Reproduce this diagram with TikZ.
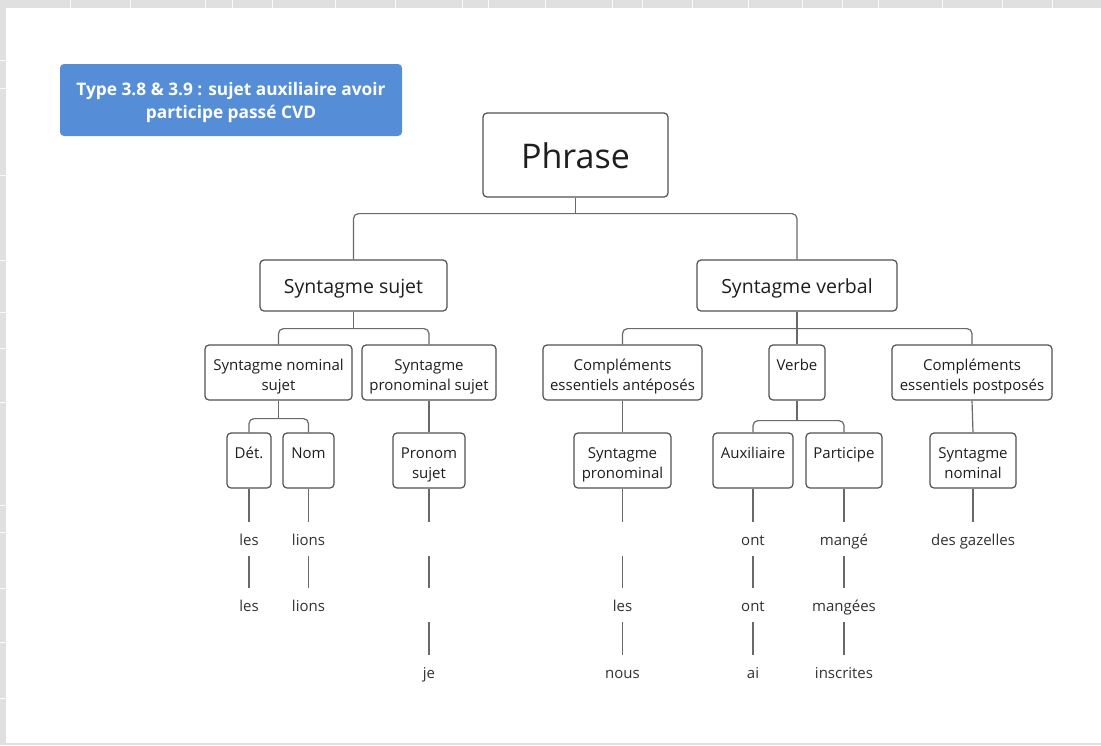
\documentclass[tikz,border=0pt]{standalone}
\usepackage{fontspec}
\usepackage{tikz}
\setmainfont{Open Sans}
\newfontfamily\labelfont{Open Sans}

\definecolor{titleblue}{RGB}{85,142,214}
\definecolor{boxgray}{RGB}{80,80,80}
\definecolor{linegray}{RGB}{105,105,105}
\definecolor{labelink}{RGB}{30,30,30}
\definecolor{wordink}{RGB}{50,50,50}
\definecolor{bggray}{RGB}{224,224,224}

\newcommand{\phrasefont}{\labelfont\fontsize{34}{40}\selectfont}
\newcommand{\midfont}{\labelfont\fontsize{19.5}{24}\selectfont}
\newcommand{\smallfont}{\labelfont\fontsize{15}{20}\selectfont}
\newcommand{\titlefont}{\labelfont\bfseries\fontsize{17.3}{23}\selectfont}
% hauteur et profondeur autour de la derniere ligne
\newcommand{\upstrut}[1]{\vrule width 0pt height #1 depth 0pt}
\newcommand{\downstrut}[1]{\vrule width 0pt height 0pt depth #1}

\tikzset{
  boxbase/.style={draw=boxgray, line width=1.2pt, rounded corners=4pt, fill=white,
    align=center, text=labelink, inner sep=0pt},
  box/.style={boxbase, font=\smallfont,
    execute at begin node=\upstrut{2.65em}, execute at end node=\downstrut{0.3em}},
  bigbox/.style={boxbase,
    execute at begin node=\upstrut{1.1em}, execute at end node=\downstrut{0.3em}},
  titlebox/.style={fill=titleblue, rounded corners=4pt, align=center,
    text=white, inner sep=0pt, font=\titlefont,
    execute at begin node=\upstrut{2.4em}, execute at end node=\downstrut{0.3em}},
  link/.style={draw=linegray, line width=1.2pt, rounded corners=5pt},
  word/.style={text=wordink, inner sep=0pt, minimum height=34pt, font=\smallfont,
    execute at begin node=\upstrut{1.1em}, execute at end node=\downstrut{0.3em}}
}

\begin{document}
\begin{tikzpicture}[x=1pt,y=-1pt]
        % fond
        \useasboundingbox (0,0) rectangle (1101,745);
        \fill[bggray] (0,0) rectangle (1101,745);
        \foreach \gx in {70,130,205,232,272,335,395,462,488,545,612,642,692,748,802,842,878,942,1002,1052}
            \draw[white!85!bggray, line width=1pt] (\gx,0) -- (\gx,8);
        \foreach \gy in {60,88,175,260,312,348,402,505,532,588,642,698}
            \draw[white!85!bggray, line width=1pt] (0,\gy) -- (6,\gy);
        \fill[white] (6,8) rectangle (1101,743);

        % titre
        \node[titlebox, minimum width=342pt, minimum height=72pt] (title) at (231,100)
            {Type 3.8 \& 3.9 : sujet auxiliaire avoir\\participe passé CVD};

        % niveau 1 et 2
        \node[bigbox, minimum width=185pt, minimum height=84pt, font=\phrasefont] (phrase) at (575.5,155) {Phrase};
        \node[bigbox, minimum width=187pt, minimum height=51pt, font=\midfont] (ss) at (353.5,285.5) {Syntagme sujet};
        \node[bigbox, minimum width=200pt, minimum height=51pt, font=\midfont] (sv) at (797,285.5) {Syntagme verbal};

        % niveau 3
        \node[box, minimum width=147pt, minimum height=55pt] (sns) at (278.5,372.5) {Syntagme nominal\\sujet};
        \node[box, minimum width=134pt, minimum height=55pt] (sps) at (429,372.5) {Syntagme\\pronominal sujet};
        \node[box, minimum width=159pt, minimum height=55pt] (cea) at (622.5,372.5) {Compléments\\essentiels antéposés};
        \node[box, minimum width=56pt, minimum height=55pt] (verbe) at (797,372.5) {Verbe\\};
        \node[box, minimum width=160pt, minimum height=55pt] (cep) at (972,372.5) {Compléments\\essentiels postposés};

        % niveau 4
        \node[box, minimum width=44pt, minimum height=55pt] (det) at (249,460.5) {Dét.\\};
        \node[box, minimum width=51pt, minimum height=55pt] (nom) at (308.5,460.5) {Nom\\};
        \node[box, minimum width=72pt, minimum height=55pt] (pron) at (429,460.5) {Pronom\\sujet};
        \node[box, minimum width=97pt, minimum height=55pt] (spn) at (622.5,460.5) {Syntagme\\pronominal};
        \node[box, minimum width=80pt, minimum height=55pt] (aux) at (753,460.5) {Auxiliaire\\};
        \node[box, minimum width=76pt, minimum height=55pt] (part) at (844,460.5) {Participe\\};
        \node[box, minimum width=86pt, minimum height=55pt] (sn) at (973,460.5) {Syntagme\\nominal};

        % mots
        \node[word] (det1) at (249,539) {les};
        \node[word] (det2) at (249,605) {les};
        \node[word] (nom1) at (308.5,539) {lions};
        \node[word] (nom2) at (308.5,605) {lions};
        \node[word] (pron1) at (429,539) {};
        \node[word] (pron2) at (429,605) {};
        \node[word] (pron3) at (429,672) {je};
        \node[word] (spn1) at (622.5,539) {};
        \node[word] (spn2) at (622.5,605) {les};
        \node[word] (spn3) at (622.5,672) {nous};
        \node[word] (aux1) at (753,539) {ont};
        \node[word] (aux2) at (753,605) {ont};
        \node[word] (aux3) at (753,672) {ai};
        \node[word] (part1) at (844,539) {mangé};
        \node[word] (part2) at (844,605) {mangées};
        \node[word] (part3) at (844,672) {inscrites};
        \node[word] (sn1) at (973,539) {des gazelles};

        % branches
        \draw[link] (phrase.south) -- ++(0,16) coordinate (j0);
        \draw[link] (ss.north) |- (j0) -| (sv.north);
        \draw[link] (ss.south) -- ++(0,17) coordinate (j1);
        \draw[link] (sns.north) |- (j1) -| (sps.north);
        \draw[link] (sv.south) -- (verbe.north);
        \draw[link] (sv.south) ++(0,17) coordinate (j2);
        \draw[link] (cea.north) |- (j2) -| (cep.north);
        \draw[link] (sns.south) -- ++(0,18) coordinate (j3);
        \draw[link] (det.north) |- (j3) -| (nom.north);
        \draw[link] (verbe.south) -- ++(0,20) coordinate (j4);
        \draw[link] (aux.north) |- (j4) -| (part.north);
        \foreach \a/\b in {sps/pron, cea/spn, cep/sn}
            \draw[link] (\a.south) -- (\b.north);
        \foreach \a/\b in {det/det1, det1/det2, nom/nom1, nom1/nom2,
                           pron/pron1, pron1/pron2, pron2/pron3,
                           spn/spn1, spn1/spn2, spn2/spn3,
                           aux/aux1, aux1/aux2, aux2/aux3,
                           part/part1, part1/part2, part2/part3, sn/sn1}
            \draw[link] (\a.south) -- (\b.north);
    \end{tikzpicture}
\end{document}
